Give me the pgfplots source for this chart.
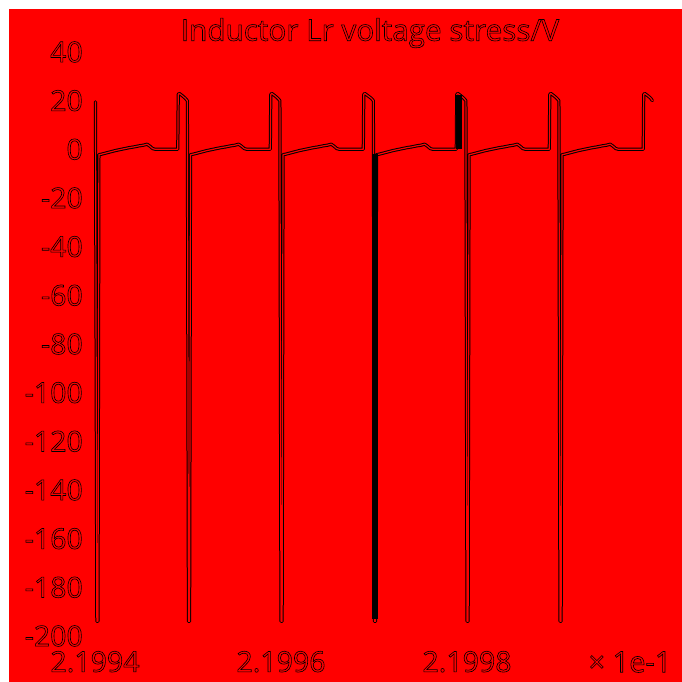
\documentclass[border=0pt]{standalone}
\usepackage{fontspec}
\setmainfont{Open Sans}
\usepackage{pgfplots}
\pgfplotsset{compat=1.18}
\usepackage{pgfplotstable}

% hollow (stroked) lettering
\newcommand\outl[1]{\special{pdf:literal direct q 0 G 1 Tr 0.6 w}#1\special{pdf:literal direct Q}}

% Inductor Lr voltage; t is the time offset from 0.21994 s in units of 1e-5 s
\pgfplotstableread{
t v
0.005 19.5
0.020 -194
0.032 -194
0.042 -2.2
0.070 -2.0
0.120 -1.5
0.170 -1.0
0.220 -0.5
0.270 -0.1
0.320 0.3
0.370 0.7
0.420 1.0
0.470 1.4
0.520 1.7
0.560 2.1
0.590 1.3
0.620 0.3
0.650 0.0
0.890 0.0
0.895 22.5
0.905 23.0
0.940 22.0
0.970 21.0
0.993 20.0
1.005 -194
1.017 -194
1.027 -2.2
1.055 -2.0
1.105 -1.5
1.155 -1.0
1.205 -0.5
1.255 -0.1
1.305 0.3
1.355 0.7
1.405 1.0
1.455 1.4
1.505 1.7
1.545 2.1
1.575 1.3
1.605 0.3
1.635 0.0
1.885 0.0
1.890 22.5
1.900 23.0
1.935 22.0
1.965 21.0
1.988 20.0
2.000 -194
2.012 -194
2.022 -2.2
2.050 -2.0
2.100 -1.5
2.150 -1.0
2.200 -0.5
2.250 -0.1
2.300 0.3
2.350 0.7
2.400 1.0
2.450 1.4
2.500 1.7
2.540 2.1
2.570 1.3
2.600 0.3
2.630 0.0
2.885 0.0
2.890 22.5
2.900 23.0
2.935 22.0
2.970 21.0
2.993 20.0
3.005 -194
3.017 -194
3.027 -2.2
3.055 -2.0
3.105 -1.5
3.155 -1.0
3.205 -0.5
3.255 -0.1
3.305 0.3
3.355 0.7
3.405 1.0
3.455 1.4
3.505 1.7
3.545 2.1
3.575 1.3
3.605 0.3
3.635 0.0
3.885 0.0
3.890 22.5
3.900 23.0
3.935 22.0
3.965 21.0
3.988 20.0
4.000 -194
4.012 -194
4.022 -2.2
4.050 -2.0
4.100 -1.5
4.150 -1.0
4.200 -0.5
4.250 -0.1
4.300 0.3
4.350 0.7
4.400 1.0
4.450 1.4
4.500 1.7
4.540 2.1
4.570 1.3
4.600 0.3
4.630 0.0
4.885 0.0
4.890 22.5
4.900 23.0
4.935 22.0
4.965 21.0
4.988 20.0
5.000 -194
5.012 -194
5.022 -2.2
5.050 -2.0
5.100 -1.5
5.150 -1.0
5.200 -0.5
5.250 -0.1
5.300 0.3
5.350 0.7
5.400 1.0
5.450 1.4
5.500 1.7
5.540 2.1
5.570 1.3
5.600 0.3
5.630 0.0
5.895 0.0
5.900 22.5
5.910 23.0
5.945 22.0
5.975 21.0
5.993 20.0
}\vlr

% dense bursts that render as solid strokes
\pgfplotstableread{
t v
3.010 -2
3.010 -193
}\spikefour
\pgfplotstableread{
t v
3.915 0
3.915 22.5
}\risefive

\begin{document}
\begin{tikzpicture}[x=1pt,y=1pt]
\fill[white] (0,0) rectangle (682,682);
\fill[red] (9,0) rectangle (682,673);
\begin{axis}[
  at={(95pt,46pt)}, anchor=south west,
  scale only axis, width=558pt, height=584pt,
  xmin=0, xmax=6, ymin=-200, ymax=40,
  axis line style={draw=none},
  major tick length=0pt,
  xtick={0,2,4}, xticklabels={\outl{2.1994},\outl{2.1996},\outl{2.1998}},
  ytick={-200,-180,...,40},
  yticklabel={\outl{\pgfmathprintnumber[assume math mode=true]{\tick}}},
  ticklabel style={font=\fontsize{28.5}{34}\selectfont},
  yticklabel style={anchor=east, inner sep=0pt, xshift=-12pt},
  xticklabel style={anchor=north, inner sep=0pt, yshift=-15pt},
  clip=false,
]
\addplot[black, line width=3.2pt, line join=round, line cap=round] table {\vlr};
\addplot[red, line width=1.2pt, line join=round, line cap=round] table {\vlr};
\addplot[black, line width=6pt] table {\spikefour};
\addplot[black, line width=6.5pt] table {\risefive};
\end{axis}
\node[font=\fontsize{29.7}{34}\selectfont] at (370,649) {\outl{Inductor Lr voltage stress/V}};
\node[font=\fontsize{29}{34}\selectfont] at (630,20) {\outl{× 1e-1}};
\end{tikzpicture}
\end{document}
